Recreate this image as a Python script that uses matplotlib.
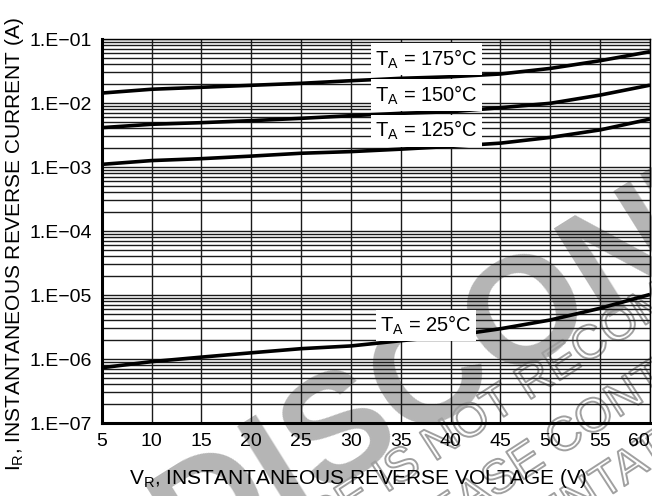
import numpy as np
import matplotlib
matplotlib.use("Agg")
import matplotlib.pyplot as plt
from matplotlib import patheffects
from matplotlib.ticker import LogLocator, FixedLocator, NullFormatter

plt.rcParams['font.family'] = ['Liberation Sans', 'DejaVu Sans']
plt.rcParams['mathtext.fontset'] = 'custom'
plt.rcParams['mathtext.rm'] = 'Liberation Sans'
plt.rcParams['mathtext.it'] = 'Liberation Sans'

# Data
voltage = [5, 10, 15, 20, 25, 30, 35, 40, 45, 50, 55, 60]
i_175 = [0.0143, 0.0164, 0.0176, 0.0189, 0.0203, 0.0223, 0.0243, 0.0257, 0.0284, 0.0347, 0.0458, 0.0634]
i_150 = [0.00412, 0.00465, 0.00493, 0.0053, 0.00576, 0.00634, 0.0069, 0.0073, 0.00845, 0.0099, 0.0133, 0.019]
i_125 = [0.0011, 0.00126, 0.00135, 0.00148, 0.00164, 0.00174, 0.0019, 0.0021, 0.00236, 0.0029, 0.0038, 0.0056]
i_25 = [7.3e-7, 9.1e-7, 1.07e-6, 1.25e-6, 1.45e-6, 1.6e-6, 1.93e-6, 2.29e-6, 2.97e-6, 4.07e-6, 6.2e-6, 1.02e-5]
series = [i_175, i_150, i_125, i_25]
labels = ["$\\mathregular{T_A}$ = 175°C", "$\\mathregular{T_A}$ = 150°C",
          "$\\mathregular{T_A}$ = 125°C", "$\\mathregular{T_A}$ = 25°C"]
label_x = [37.6, 37.6, 37.6, 37.5]
label_y = [0.0487, 0.0133, 0.00368, 3.33e-6]
x_ticks = [5, 10, 15, 20, 25, 30, 35, 40, 45, 50, 55, 60]
y_ticks = [1e-1, 1e-2, 1e-3, 1e-4, 1e-5, 1e-6, 1e-7]
y_ticklabels = ["1.E\u221201", "1.E\u221202", "1.E\u221203", "1.E\u221204",
                "1.E\u221205", "1.E\u221206", "1.E\u221207"]

W, H = 652, 496
fig = plt.figure(figsize=(W / 100, H / 100), dpi=100)
fig.patch.set_facecolor('white')
ax = fig.add_axes([101.8 / W, 1 - 423 / H, (650 - 101.8) / W, (423 - 39) / H])
ax.patch.set_visible(False)

def px(x, y):
    return x / W, 1 - y / H

# Watermark (beneath the grid)
fig.text(*px(683, 265), "DISCONTINUED", rotation=32, rotation_mode='anchor',
         fontsize=110, fontweight='bold', color='#b5b5b5', ha='center', va='baseline',
         zorder=-2)
pe = [patheffects.Stroke(linewidth=1.4, foreground='#a0a0a0')]
wm_lines = [(("THIS DEVICE IS NOT ", "RECOMMENDED FOR NEW DESIGN"), (528, 401)),
            (("PLEASE ", "CONTACT YOUR REPRESENTATIVE"), (558, 457)),
            (("REPRESEN", "TATIVE FOR INFORMATION"), (603, 500))]
for (pre, post), (x0, y0) in wm_lines:
    for txt, ha in ((pre, 'right'), (post, 'left')):
        fig.text(*px(x0, y0), txt, rotation=33, rotation_mode='anchor', fontsize=34,
                 color='none', ha=ha, va='baseline', zorder=-2, path_effects=pe)

for s in series:
    ax.plot(voltage, s, color='black', lw=2.6, zorder=4, solid_capstyle='butt')

for lx, ly, lab in zip(label_x, label_y, labels):
    ax.text(lx, ly, lab, fontsize=14.5, ha='center', va='center', zorder=5,
            bbox=dict(facecolor='white', edgecolor='none', pad=3))

ax.set_yscale('log')
ax.set_xlim(5, 60)
ax.set_ylim(1e-7, 1e-1)
ax.xaxis.set_major_locator(FixedLocator(x_ticks))
ax.set_xticklabels([str(v) for v in x_ticks])
ax.yaxis.set_major_locator(FixedLocator(y_ticks))
ax.set_yticklabels(y_ticklabels)
ax.yaxis.set_minor_locator(LogLocator(base=10, subs=np.arange(2, 10)))
ax.yaxis.set_minor_formatter(NullFormatter())
ax.get_xticklabels()[-1].set_horizontalalignment('right')

ax.grid(True, which='major', axis='both', color='#1a1a1a', lw=1.0, zorder=2)
ax.grid(True, which='minor', axis='y', color='#1a1a1a', lw=1.0, zorder=2)
ax.tick_params(which='both', length=0, labelsize=14)
ax.tick_params(axis='x', pad=7.5)
ax.tick_params(axis='y', pad=7)

for side in ['left', 'bottom']:
    ax.spines[side].set_linewidth(2.2)
for side in ['top', 'right']:
    ax.spines[side].set_linewidth(1.0)

ax.set_xlabel("$\\mathregular{V_R}$, INSTANTANEOUS REVERSE VOLTAGE (V)", fontsize=15, labelpad=10)
ax.xaxis.set_label_coords(0.467, -0.115)
ax.set_ylabel("$\\mathregular{I_R}$, INSTANTANEOUS REVERSE CURRENT (A)", fontsize=15)
ax.yaxis.set_label_coords(-0.138, 0.466)

fig.savefig("out.png", dpi=100)
